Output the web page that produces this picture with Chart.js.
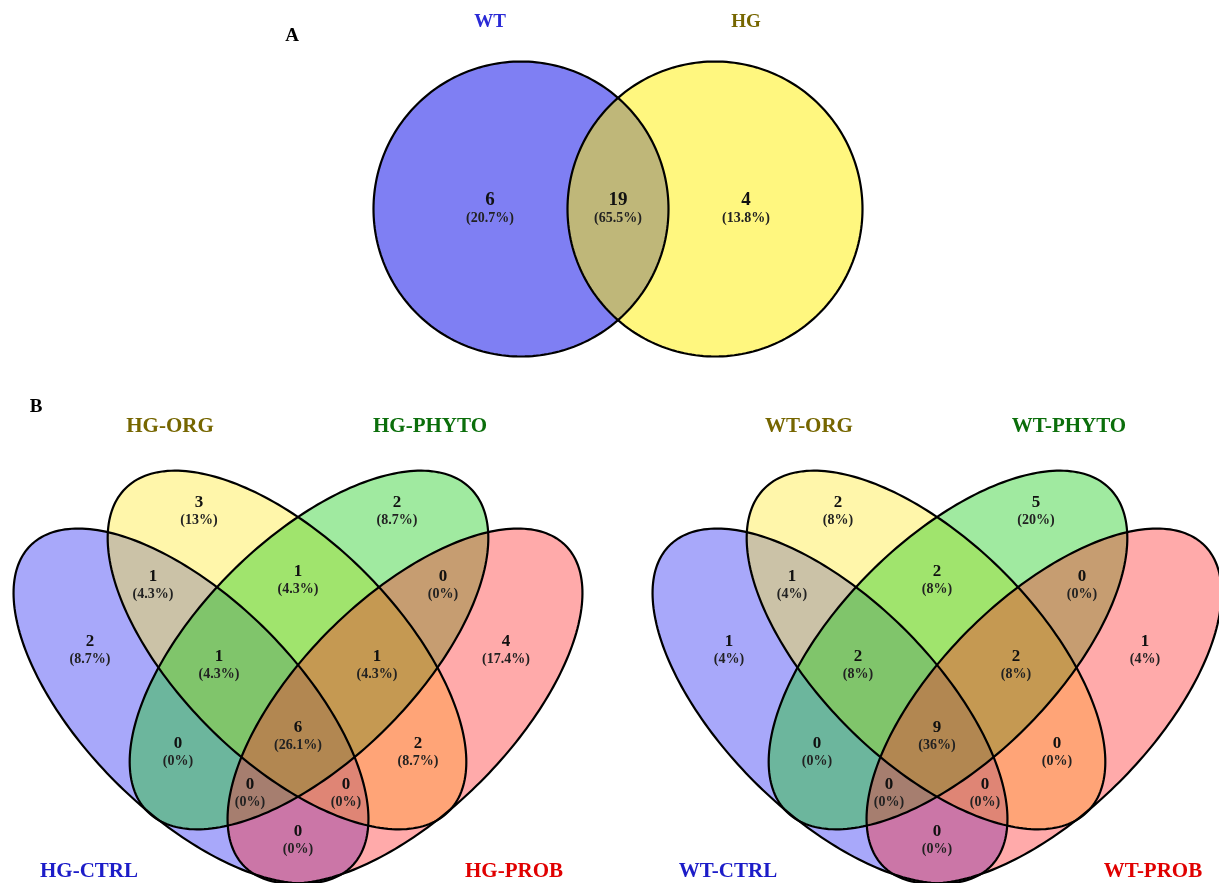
<!DOCTYPE html>
<html>
<head>
<meta charset="utf-8">
<title>Venn</title>
<script src="https://cdn.jsdelivr.net/npm/chart.js@4.4.1/dist/chart.umd.min.js"></script>
<style>
  html, body { margin: 0; padding: 0; background: #fff; }
  #wrap { width: 1219px; height: 883px; position: relative; }
</style>
</head>
<body>
<div id="wrap"><canvas id="mycanvas"></canvas></div>
<script>
// ---- data ----
var setsA = ['WT', 'HG'];
var regionsA = ['WT', 'WT&HG', 'HG'];
var countsA = [6, 19, 4];

var setsHG = ['HG-CTRL', 'HG-ORG', 'HG-PHYTO', 'HG-PROB'];
var setsWT = ['WT-CTRL', 'WT-ORG', 'WT-PHYTO', 'WT-PROB'];
var regionsB = ['ORG', 'PHYTO', 'CTRL&ORG', 'ORG&PHYTO', 'PHYTO&PROB', 'CTRL', 'PROB',
                'CTRL&ORG&PHYTO', 'ORG&PHYTO&PROB', 'CTRL&PHYTO', 'ALL', 'ORG&PROB',
                'CTRL&PHYTO&PROB', 'CTRL&ORG&PROB', 'CTRL&PROB'];
var countsHG = [3, 2, 1, 1, 0, 2, 4, 1, 1, 0, 6, 2, 0, 0, 0];
var countsWT = [2, 5, 1, 2, 0, 1, 1, 2, 2, 0, 9, 0, 0, 0, 0];

// ---- layout (page units, y down) ----
var FONT = '"Liberation Serif", "Times New Roman", serif';

var circlesA = [
    { x: 521, y: 209, a: 147.5, b: 147.5, rot: 0, fill: 'rgba(0,0,232,0.5)' },
    { x: 715, y: 209, a: 147.5, b: 147.5, rot: 0, fill: 'rgba(255,240,0,0.5)' }
];
var anchorsA = [[490, 200], [618, 200], [746, 200]];
var titlesA = [
    { x: 490, y: 22, color: '#2a2ad6' },
    { x: 746, y: 22, color: '#766600' }
];

// ellipses for the 4-set diagrams, x relative to panel centre
var ellipsesB = [
    { dx: -107, y: 706, a: 227,   b: 107, rot: 45,  fill: 'rgba(38,38,242,0.4)' },
    { dx: -11,  y: 650, a: 228.5, b: 110, rot: 45,  fill: 'rgba(255,232,42,0.4)' },
    { dx: 11,   y: 650, a: 228.5, b: 110, rot: -45, fill: 'rgba(17,202,17,0.4)' },
    { dx: 107,  y: 706, a: 227,   b: 107, rot: -45, fill: 'rgba(255,42,42,0.4)' }
];
var anchorsB = [[-99, 503], [99, 503], [-145, 577], [0, 572], [145, 577], [-208, 642], [208, 642],
                [-79, 657], [79, 657], [-120, 744], [0, 728], [120, 744],
                [-48, 785], [48, 785], [0, 832]];
var titlesB = [
    { dx: -209, y: 872, color: '#1c1cc8' },
    { dx: -128, y: 427, color: '#766600' },
    { dx: 132,  y: 427, color: '#0b6e0b' },
    { dx: 216,  y: 872, color: '#e00000' }
];
var centresB = [298, 937];

function pct(v, total) {
    return '(' + (+(v / total * 100).toFixed(1)) + '%)';
}
function sum(arr) {
    return arr.reduce(function (s, v) { return s + v; }, 0);
}

// one point per region label, placed through the chart scales
var pointsA = anchorsA.map(function (p) { return { x: p[0], y: p[1] }; });
var pointsHG = anchorsB.map(function (p) { return { x: centresB[0] + p[0], y: p[1] }; });
var pointsWT = anchorsB.map(function (p) { return { x: centresB[1] + p[0], y: p[1] }; });

function ellipsePath(ctx, xs, ys, e) {
    var th = e.rot * Math.PI / 180;
    ctx.beginPath();
    for (var k = 0; k <= 240; k++) {
        var t = k / 240 * 2 * Math.PI;
        var ux = e.a * Math.cos(t), uy = e.b * Math.sin(t);
        var px = xs.getPixelForValue(e.x + ux * Math.cos(th) - uy * Math.sin(th));
        var py = ys.getPixelForValue(e.y + ux * Math.sin(th) + uy * Math.cos(th));
        if (k === 0) ctx.moveTo(px, py); else ctx.lineTo(px, py);
    }
    ctx.closePath();
}

function drawShapes(ctx, xs, ys, shapes) {
    shapes.forEach(function (e) {
        ellipsePath(ctx, xs, ys, e);
        ctx.fillStyle = e.fill;
        ctx.fill();
    });
    shapes.forEach(function (e) {
        ellipsePath(ctx, xs, ys, e);
        ctx.lineWidth = 2.2;
        ctx.strokeStyle = '#000';
        ctx.stroke();
    });
}

function text(ctx, s, x, y, size, color) {
    ctx.font = 'bold ' + size + 'px ' + FONT;
    ctx.fillStyle = color;
    ctx.textAlign = 'center';
    ctx.textBaseline = 'middle';
    ctx.fillText(s, x, y);
}

var vennPlugin = {
    id: 'venn',
    beforeDatasetsDraw: function (chart) {
        var ctx = chart.ctx, xs = chart.scales.x, ys = chart.scales.y;
        ctx.save();
        drawShapes(ctx, xs, ys, circlesA);
        centresB.forEach(function (cx) {
            drawShapes(ctx, xs, ys, ellipsesB.map(function (e) {
                return { x: cx + e.dx, y: e.y, a: e.a, b: e.b, rot: e.rot, fill: e.fill };
            }));
        });
        ctx.restore();
    },
    afterDatasetsDraw: function (chart) {
        var ctx = chart.ctx, xs = chart.scales.x, ys = chart.scales.y;
        ctx.save();
        chart.data.datasets.forEach(function (ds, i) {
            var meta = chart.getDatasetMeta(i);
            var total = sum(ds.counts);
            var big = ds.big;
            meta.data.forEach(function (pt, j) {
                text(ctx, String(ds.counts[j]), pt.x, pt.y, big ? 19 : 17, '#111');
                text(ctx, pct(ds.counts[j], total), pt.x, pt.y + (big ? 18 : 17), 14, '#222');
            });
        });
        titlesA.forEach(function (t, i) {
            text(ctx, setsA[i], xs.getPixelForValue(t.x), ys.getPixelForValue(t.y), 19, t.color);
        });
        [setsHG, setsWT].forEach(function (names, p) {
            titlesB.forEach(function (t, i) {
                text(ctx, names[i], xs.getPixelForValue(centresB[p] + t.dx), ys.getPixelForValue(t.y), 21, t.color);
            });
        });
        text(ctx, 'A', xs.getPixelForValue(292), ys.getPixelForValue(36), 19, '#000');
        text(ctx, 'B', xs.getPixelForValue(36), ys.getPixelForValue(407), 19, '#000');
        ctx.restore();
    }
};

var ctx = document.getElementById('mycanvas');
var vennChart = new Chart(ctx, {
    type: 'scatter',
    data: {
        datasets: [
            { label: 'A', data: pointsA, counts: countsA, big: true, pointRadius: 0 },
            { label: 'HG', data: pointsHG, counts: countsHG, pointRadius: 0 },
            { label: 'WT', data: pointsWT, counts: countsWT, pointRadius: 0 }
        ]
    },
    options: {
        responsive: true,
        maintainAspectRatio: false,
        animation: false,
        layout: { padding: 0 },
        plugins: { legend: { display: false }, tooltip: { enabled: false } },
        events: [],
        scales: {
            x: { type: 'linear', min: 0, max: 1219, display: false },
            y: { type: 'linear', min: 0, max: 883, reverse: true, display: false }
        }
    },
    plugins: [vennPlugin]
});
</script>
</body>
</html>
